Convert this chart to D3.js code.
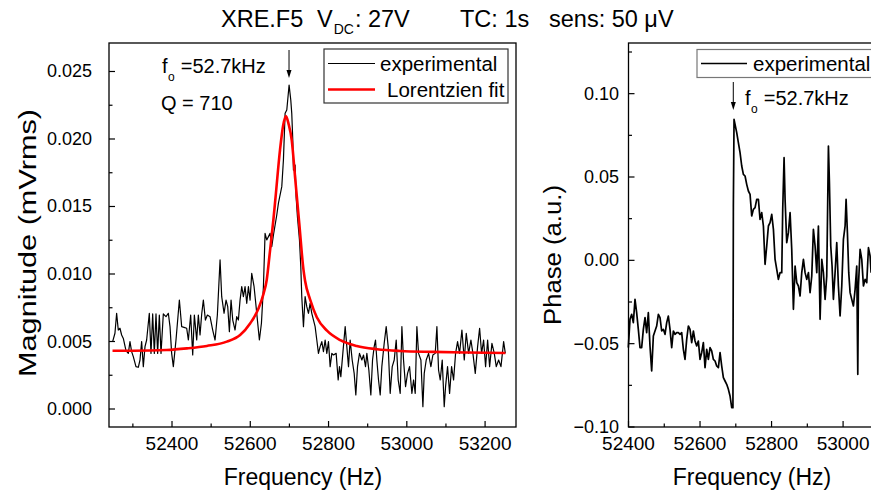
<!DOCTYPE html>
<html><head><meta charset="utf-8">
<script src="https://cdn.jsdelivr.net/npm/d3@7"></script>
<style>body{margin:0;background:#fff}text{font-family:"Liberation Sans",Arial,sans-serif;fill:#000}</style>
</head><body><svg id="c" width="871" height="497"></svg>
<script>
// ---- data ----
const magFreq = [52248.3,52254.2,52258.5,52262.7,52267.0,52271.3,52275.6,52282.4,52288.3,52292.6,52296.8,52301.1,52307.9,52313.9,52318.2,52322.4,52326.7,52331.0,52335.2,52342.0,52346.3,52350.6,52354.8,52359.1,52363.3,52367.6,52371.9,52377.8,52384.7,52390.6,52394.9,52399.1,52403.4,52410.2,52418.8,52424.7,52430.7,52437.5,52441.8,52447.7,52452.9,52457.1,52463.1,52467.3,52471.6,52475.9,52480.1,52485.3,52490.4,52497.2,52504.0,52510.0,52515.9,52522.8,52527.0,52533.0,52538.1,52542.4,52546.6,52550.9,52555.2,52561.1,52565.4,52569.6,52573.9,52578.2,52582.4,52586.7,52591.0,52595.2,52599.5,52603.7,52609.7,52614.0,52618.2,52623.3,52628.5,52633.6,52637.8,52642.1,52650.6,52654.9,52659.2,52667.7,52671.9,52680.5,52684.7,52689.0,52693.3,52699.2,52703.5,52706.0,52708.6,52710.3,52714.6,52717.1,52720.5,52725.7,52729.1,52731.6,52735.9,52740.1,52744.4,52748.7,52752.9,52757.2,52765.7,52770.0,52774.2,52778.5,52782.8,52787.0,52791.3,52795.6,52799.8,52804.1,52808.4,52812.6,52819.4,52824.6,52828.0,52831.4,52836.5,52842.5,52846.7,52851.0,52855.2,52860.4,52865.5,52869.7,52874.0,52879.1,52885.1,52889.4,52894.5,52897.9,52903.0,52908.1,52912.4,52916.6,52920.0,52923.4,52927.7,52932.0,52936.2,52942.2,52947.3,52952.4,52957.5,52962.7,52967.8,52972.9,52978.0,52983.1,52987.4,52991.6,52996.8,53001.9,53007.0,53013.0,53017.2,53021.5,53025.7,53030.0,53036.0,53041.1,53044.5,53049.6,53055.6,53061.5,53066.6,53072.6,53076.9,53081.1,53085.4,53090.5,53095.6,53099.0,53104.1,53109.3,53114.4,53119.5,53124.6,53129.7,53134.8,53140.8,53146.8,53151.9,53157.9,53163.8,53168.9,53174.9,53180.9,53186.0,53191.1,53196.2,53201.3,53206.5,53211.6,53217.5,53223.5,53228.6,53234.6,53240.6,53247.4,53251.7];
const magValue = [0.00499,0.00561,0.00709,0.00585,0.00598,0.00548,0.00523,0.00432,0.00412,0.00499,0.00425,0.00388,0.00314,0.00309,0.00363,0.00499,0.00314,0.00462,0.00511,0.00709,0.00412,0.00704,0.00412,0.00704,0.00412,0.00696,0.00412,0.00704,0.00684,0.00709,0.00610,0.00412,0.00314,0.00511,0.00807,0.00610,0.00605,0.00598,0.00511,0.00696,0.00400,0.00696,0.00511,0.00696,0.00548,0.00704,0.00807,0.00659,0.00696,0.00684,0.00585,0.00511,0.00696,0.01104,0.00832,0.00709,0.00807,0.00758,0.00573,0.00807,0.00659,0.00585,0.00684,0.00659,0.00807,0.00906,0.00832,0.00906,0.00783,0.00906,0.00807,0.01005,0.00906,0.00783,0.00659,0.00511,0.00635,0.00906,0.01301,0.01252,0.01301,0.01202,0.01289,0.01437,0.01524,0.01647,0.01844,0.02190,0.02215,0.02400,0.02289,0.02190,0.01993,0.01770,0.01807,0.01573,0.01425,0.01252,0.01054,0.00832,0.00610,0.00832,0.00758,0.00709,0.00783,0.00709,0.00610,0.00511,0.00412,0.00462,0.00499,0.00425,0.00511,0.00412,0.00499,0.00314,0.00412,0.00400,0.00412,0.00215,0.00314,0.00240,0.00412,0.00610,0.00462,0.00314,0.00511,0.00363,0.00264,0.00104,0.00314,0.00412,0.00363,0.00400,0.00314,0.00412,0.00289,0.00104,0.00363,0.00462,0.00511,0.00363,0.00215,0.00104,0.00314,0.00486,0.00610,0.00462,0.00116,0.00314,0.00363,0.00511,0.00215,0.00116,0.00610,0.00363,0.00166,0.00264,0.00314,0.00116,0.00215,0.00116,0.00610,0.00412,0.00363,0.00017,0.00264,0.00363,0.00412,0.00314,0.00400,0.00412,0.00610,0.00289,0.00215,0.00363,0.00017,0.00166,0.00314,0.00116,0.00314,0.00215,0.00412,0.00499,0.00412,0.00585,0.00363,0.00561,0.00412,0.00511,0.00412,0.00264,0.00462,0.00598,0.00412,0.00511,0.00314,0.00511,0.00314,0.00486,0.00412,0.00314,0.00363,0.00314,0.00499,0.00412];
const fitFreq = [52248,52301,52386,52438,52489,52540,52574,52600,52621,52634,52642,52650,52659,52664,52676,52684,52691,52698,52706,52715,52725,52736,52740,52753,52770,52796,52830,52872,52924,52983,53068,53154,53252];
const fitValue = [0.00432,0.00432,0.00437,0.00449,0.00467,0.00499,0.00548,0.00635,0.00744,0.00855,0.00956,0.0116,0.0140,0.0155,0.0192,0.0210,0.0217,0.0211,0.0199,0.0170,0.0138,0.0103,0.0095,0.0081,0.0068,0.0058,0.0051,0.00467,0.00443,0.00430,0.00423,0.00418,0.00415];
const phaseFreq = [52399.5,52404.2,52408.9,52413.5,52418.2,52422.8,52427.5,52432.2,52436.8,52441.5,52446.2,52450.8,52455.5,52460.1,52464.8,52469.5,52474.1,52478.8,52483.5,52488.1,52492.8,52497.4,52502.1,52506.8,52511.4,52516.1,52520.8,52525.4,52530.1,52534.7,52539.4,52544.1,52548.7,52553.4,52558.0,52562.7,52567.4,52572.0,52576.7,52581.4,52586.0,52590.7,52595.3,52600.0,52604.7,52609.3,52614.0,52618.7,52623.3,52628.0,52632.6,52637.3,52642.0,52646.6,52651.3,52656.0,52660.6,52665.3,52669.9,52674.6,52679.3,52683.9,52688.6,52692.0,52693.2,52695.1,52697.9,52702.6,52707.2,52711.9,52716.6,52721.2,52725.9,52730.5,52735.2,52739.9,52744.5,52749.2,52753.9,52758.5,52763.2,52767.8,52772.5,52777.2,52781.8,52786.5,52791.2,52795.8,52800.5,52805.2,52809.8,52814.5,52819.1,52823.8,52828.5,52831.2,52835.0,52837.8,52842.4,52847.1,52851.8,52856.4,52861.1,52865.8,52870.4,52875.1,52879.7,52884.4,52889.1,52893.7,52898.4,52903.1,52907.7,52912.4,52917.0,52921.7,52926.4,52931.0,52935.7,52940.4,52945.0,52949.7,52954.3,52959.0,52961.8,52965.5,52969.2,52972.9,52977.6,52982.3,52986.9,52991.6,52996.3,53000.9,53005.6,53008.4,53012.1,53015.8,53019.6,53024.2,53028.9,53033.6,53038.2,53041.1,53042.9,53047.6,53052.2,53056.9,53061.5,53066.2,53070.9,53075.5,53078.3];
const phaseValue = [-0.0524,-0.0354,-0.0324,-0.0374,-0.0234,-0.0314,-0.0414,-0.0524,-0.0524,-0.0414,-0.0344,-0.0434,-0.0314,-0.0514,-0.0664,-0.0454,-0.0424,-0.0394,-0.0324,-0.0344,-0.0424,-0.0414,-0.0444,-0.0374,-0.0334,-0.0414,-0.0524,-0.0424,-0.0444,-0.0434,-0.0434,-0.0444,-0.0434,-0.0534,-0.0594,-0.0474,-0.0394,-0.0414,-0.0494,-0.0424,-0.0484,-0.0514,-0.0484,-0.0594,-0.0554,-0.0494,-0.0644,-0.0534,-0.0594,-0.0524,-0.0544,-0.0594,-0.0604,-0.0634,-0.0644,-0.0554,-0.0634,-0.0704,-0.0724,-0.0744,-0.0774,-0.0814,-0.0884,-0.0884,0.0326,0.0846,0.0816,0.0766,0.0706,0.0646,0.0566,0.0516,0.0506,0.0456,0.0416,0.0396,0.0266,0.0306,0.0316,0.0366,0.0366,0.0246,0.0286,0.0206,-0.0024,0.0086,0.0206,0.0226,0.0276,0.0186,0.0006,-0.0054,-0.0114,-0.0074,-0.0074,0.0306,0.0616,0.0366,0.0106,0.0166,0.0286,0.0066,-0.0294,-0.0034,-0.0134,-0.0154,-0.0214,-0.0074,0.0006,-0.0074,-0.0114,-0.0074,-0.0194,-0.0094,0.0186,0.0086,-0.0074,0.0206,-0.0354,0.0006,-0.0074,-0.0234,-0.0094,0.0686,0.0466,0.0086,-0.0034,-0.0234,-0.0074,0.0106,-0.0154,-0.0334,-0.0154,0.0126,0.0206,0.0366,0.0166,-0.0074,-0.0194,-0.0234,-0.0274,-0.0174,-0.0034,-0.0684,-0.0154,0.0066,0.0006,-0.0154,-0.0114,-0.0134,0.0076,0.0026,-0.0074];
const magTicks = [0.000,0.005,0.010,0.015,0.020,0.025];
const phaseTicks = [-0.10,-0.05,0.00,0.05,0.10];
const freqTicksL = [52400,52600,52800,53000,53200];
const freqTicksR = [52400,52600,52800,53000,53200,53400];
const freqLabelsR = [52400,52600,52800,53000];

// ---- layout ----
const svg = d3.select("#c");
svg.append("rect").attr("width",871).attr("height",497).attr("fill","#fff");

const xL = d3.scaleLinear().domain([52239,53279]).range([109,516]);
const yL = d3.scaleLinear().domain([-0.001333,0.02711]).range([427,43]);
const xR = d3.scaleLinear().domain([52400,53538]).range([628.5,1035.5]);
const yR = d3.scaleLinear().domain([-0.1,0.1304]).range([427,43]);

function panel(x, y, xt, xlab, yt, yfmt, ylabX, yMinorStep){
  const g = svg.append("g");
  const [x0,x1] = x.range(), [y0,y1] = y.range();
  const xd = x.domain();
  const xmin = d3.range(Math.ceil(xd[0]/100)*100, xd[1], 100).filter(v=>v%200!==0);
  const ax = g.append("g");
  ax.selectAll(".xM").data(xt).join("line").attr("x1",d=>x(d)).attr("x2",d=>x(d)).attr("y1",y0).attr("y2",y0-6).attr("stroke","#000").attr("stroke-width",1.2);
  ax.selectAll(".xm").data(xmin).join("line").attr("x1",d=>x(d)).attr("x2",d=>x(d)).attr("y1",y0).attr("y2",y0-3.5).attr("stroke","#000").attr("stroke-width",1.2);
  ax.selectAll(".xl").data(xlab).join("text").attr("x",d=>x(d)).attr("y",y0+23).attr("text-anchor","middle").attr("font-size",19).text(d=>d);
  const yd = y.domain();
  const ymin = d3.range(Math.ceil(yd[0]/yMinorStep)*yMinorStep, yd[1], yMinorStep).filter(v=>!yt.some(t=>Math.abs(t-v)<1e-9));
  ax.selectAll(".yM").data(yt).join("line").attr("x1",x0).attr("x2",x0+6).attr("y1",d=>y(d)).attr("y2",d=>y(d)).attr("stroke","#000").attr("stroke-width",1.2);
  ax.selectAll(".ym").data(ymin).join("line").attr("x1",x0).attr("x2",x0+3.5).attr("y1",d=>y(d)).attr("y2",d=>y(d)).attr("stroke","#000").attr("stroke-width",1.2);
  ax.selectAll(".yl").data(yt).join("text").attr("x",ylabX).attr("y",d=>y(d)+6).attr("text-anchor","end").attr("font-size",18).text(d=>yfmt(d));
  g.append("rect").attr("x",x0).attr("y",y1).attr("width",x1-x0).attr("height",y0-y1).attr("fill","none").attr("stroke","#000").attr("stroke-width",1.3);
  return g;
}
panel(xL,yL,freqTicksL,freqTicksL,magTicks,d3.format(".3f"),92,0.0025);
panel(xR,yR,freqTicksR,freqLabelsR,phaseTicks,d3.format(".2f"),619,0.025);

// data lines
const lineL = d3.line().x(d=>xL(d[0])).y(d=>yL(d[1]));
svg.append("path").attr("d",lineL(d3.zip(magFreq,magValue))).attr("fill","none").attr("stroke","#000").attr("stroke-width",1.2).attr("stroke-linejoin","round");
const fitLine = d3.line().x(d=>xL(d[0])).y(d=>yL(d[1])).curve(d3.curveMonotoneX);
svg.append("path").attr("d",fitLine(d3.zip(fitFreq,fitValue))).attr("fill","none").attr("stroke","#ff0000").attr("stroke-width",2.6);
const lineR = d3.line().x(d=>xR(d[0])).y(d=>yR(d[1]));
svg.append("path").attr("d",lineR(d3.zip(phaseFreq,phaseValue))).attr("fill","none").attr("stroke","#000").attr("stroke-width",1.7).attr("stroke-linejoin","round");

// legends
const legL = svg.append("g");
legL.append("rect").attr("x",324).attr("y",49).attr("width",184).attr("height",54).attr("fill","#fff").attr("stroke","#333").attr("stroke-width",1.2);
legL.append("line").attr("x1",328).attr("x2",375).attr("y1",63.5).attr("y2",63.5).attr("stroke","#000").attr("stroke-width",1.2);
legL.append("text").attr("x",380).attr("y",70.5).attr("font-size",20.5).text("experimental");
legL.append("line").attr("x1",328).attr("x2",375).attr("y1",89.5).attr("y2",89.5).attr("stroke","#ff0000").attr("stroke-width",2.6);
legL.append("text").attr("x",387).attr("y",96.5).attr("font-size",20.5).text("Lorentzien fit");

const legR = svg.append("g");
legR.append("rect").attr("x",697).attr("y",49.5).attr("width",200).attr("height",28).attr("fill","#fff").attr("stroke","#777").attr("stroke-width",1.2);
legR.append("line").attr("x1",701).attr("x2",747).attr("y1",63.5).attr("y2",63.5).attr("stroke","#000").attr("stroke-width",1.4);
legR.append("text").attr("x",753).attr("y",70.5).attr("font-size",20.5).text("experimental");

// annotations
function arrow(x, ya, yb){
  svg.append("line").attr("x1",x).attr("x2",x).attr("y1",ya).attr("y2",yb-6).attr("stroke","#000").attr("stroke-width",1);
  svg.append("path").attr("d",`M${x-2.5},${yb-8}L${x+2.5},${yb-8}L${x},${yb}Z`).attr("fill","#000");
}
arrow(xL(52699), 50, 78);
arrow(xR(52693), 82, 110);
function f0(x, y){
  const t = svg.append("text").attr("x",x).attr("y",y).attr("font-size",20);
  t.append("tspan").text("f");
  t.append("tspan").attr("font-size",12).attr("dy",8).attr("dx",0.5).text("o");
  t.append("tspan").attr("dy",-8).attr("dx",6).text("=52.7kHz");
}
f0(162, 73);
svg.append("text").attr("x",161).attr("y",110).attr("font-size",20).text("Q = 710");
f0(745, 105);

// axis titles
svg.append("text").attr("x",303).attr("y",485).attr("text-anchor","middle").attr("font-size",23).text("Frequency (Hz)");
svg.append("text").attr("x",752).attr("y",485).attr("text-anchor","middle").attr("font-size",23).text("Frequency (Hz)");
svg.append("text").attr("transform","translate(36,243) rotate(-90)").attr("text-anchor","middle").attr("font-size",23)
  .attr("textLength",268).attr("lengthAdjust","spacingAndGlyphs").text("Magnitude (mVrms)");
svg.append("text").attr("transform","translate(561,255) rotate(-90)").attr("text-anchor","middle").attr("font-size",23)
  .attr("textLength",140).attr("lengthAdjust","spacingAndGlyphs").text("Phase (a.u.)");

// title
const tt = svg.append("text").attr("x",221).attr("y",27).attr("font-size",23.5);
tt.append("tspan").text("XRE.F5");
tt.append("tspan").attr("x",317).text("V");
tt.append("tspan").attr("font-size",14).attr("dy",7).attr("dx",1).text("DC");
tt.append("tspan").attr("dy",-7).attr("dx",1).text(": 27V");
tt.append("tspan").attr("x",460).text("TC: 1s");
tt.append("tspan").attr("x",549).text("sens: 50 \u03bcV");
</script></body></html>
